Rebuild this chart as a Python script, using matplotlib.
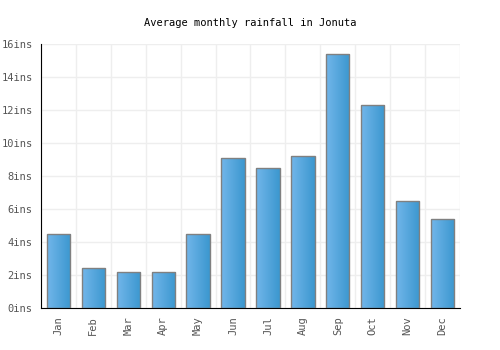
import matplotlib.pyplot as plt
import numpy as np

months = ['Jan', 'Feb', 'Mar', 'Apr', 'May', 'Jun', 'Jul', 'Aug', 'Sep', 'Oct', 'Nov', 'Dec']
rainfall = [4.5, 2.4, 2.2, 2.2, 4.5, 9.1, 8.5, 9.2, 15.4, 12.3, 6.5, 5.4]
yticks = [0, 2, 4, 6, 8, 10, 12, 14, 16]

plt.rcParams['font.family'] = ['DejaVu Sans Mono']

fig = plt.figure(figsize=(5, 3.5), dpi=100)
ax = fig.add_axes([0.082, 0.12, 0.838, 0.754])

x = np.arange(len(months))
bars = ax.bar(x, rainfall, width=0.67, color='none', edgecolor='#808080', linewidth=1, zorder=3)

# horizontal gradient inside each bar
grad = np.linspace(0, 1, 100).reshape(1, -1)
cmap = plt.matplotlib.colors.LinearSegmentedColormap.from_list('b', ['#72b6ea', '#3b97cf'])
for b in bars:
    x0, w, h = b.get_x(), b.get_width(), b.get_height()
    im = ax.imshow(grad, extent=[x0, x0 + w, 0, h], aspect='auto', cmap=cmap, zorder=2)
    im.set_clip_path(b)

ax.set_xlim(-0.5, len(months) - 0.5)
ax.set_ylim(0, 16)
ax.set_yticks(yticks)
ax.set_yticklabels([f'{v}ins' for v in yticks])
ax.set_xticks(x)
ax.set_xticklabels(months, rotation=90)
ax.set_xticks(np.arange(-0.5, len(months), 1), minor=True)

ax.grid(True, which='minor', axis='x', color='#eeeeee', linewidth=1, zorder=0)
ax.grid(True, which='major', axis='y', color='#eeeeee', linewidth=1, zorder=0)
ax.tick_params(axis='both', which='both', length=0, labelsize=7.5, labelcolor='#555555')
ax.tick_params(axis='y', pad=6)
ax.tick_params(axis='x', pad=6)

for s in ['top', 'right']:
    ax.spines[s].set_visible(False)
ax.spines['left'].set_color('black')
ax.spines['bottom'].set_color('black')

fig.text(0.5, 0.935, 'Average monthly rainfall in Jonuta', ha='center', va='center', fontsize=7.5, color='black')

fig.savefig('out.png', dpi=100)
